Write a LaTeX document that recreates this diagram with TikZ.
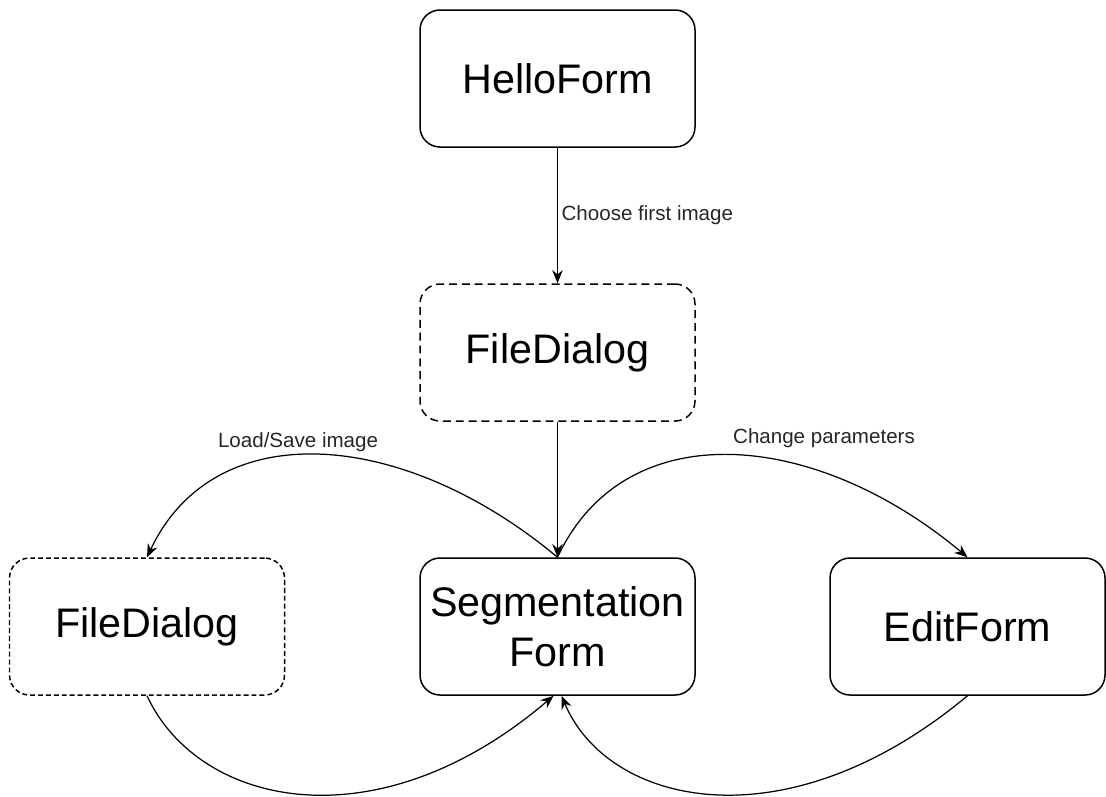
\documentclass[tikz,border=0pt]{standalone}
\usepackage{fontspec}
\setmainfont{Liberation Sans}
\usetikzlibrary{positioning, arrows.meta}

\begin{document}
\begin{tikzpicture}[every node/.style={align=center},
	form/.style={draw, rounded corners=0.4cm, line width=0.85pt, minimum width=5.5cm, minimum height=2.74cm, fill=white, font=\fontsize{23.5}{28.5}\selectfont},
	dialog/.style={form, dash pattern=on 4.5pt off 2.8pt},
	flow/.style={line width=0.7pt, -{Stealth[length=7.5pt, width=6pt, inset=2.5pt]}},
	flowlabel/.style={font=\fontsize{11.7}{14}\selectfont, inner sep=2pt, text=black!85}]
	\useasboundingbox (0,0) rectangle (22.12,-15.92);
	%Forms
	\node[form] (hello) at (11.15,-1.57) {HelloForm};
	\node[dialog] (fdtop) at (11.15,-7.05) {FileDialog};
	\node[form] (seg) at (11.15,-12.53) {Segmentation\\Form};
	\node[form] (edit) at (19.35,-12.53) {EditForm};
	\node[dialog, dash pattern=on 2.8pt off 1.7pt] (fdleft) at (2.94,-12.53) {FileDialog};
	%Straight flow
	\draw[flow] (hello) -- node[flowlabel, right] {Choose first image} (fdtop);
	\draw[flow] (fdtop) -- (seg);
	%Curves from SegmentationForm
	\draw[flow] (seg.north) .. controls (8.08,-8.58) and (4.30,-8.26) .. (fdleft.north) node[flowlabel, pos=0.55, above] {Load/Save image};
	\draw[flow] (seg.north) .. controls (12.50,-8.26) and (16.28,-8.58) .. (edit.north) node[flowlabel, pos=0.7, above=12pt] {Change parameters};
	%Curves back to SegmentationForm
	\draw[flow] (fdleft.south) .. controls (3.96,-16.12) and (7.52,-16.94) .. ([xshift=-0.08cm]seg.south);
	\draw[flow] (edit.south) .. controls (15.72,-16.94) and (12.16,-16.12) .. ([xshift=0.08cm]seg.south);
\end{tikzpicture}
\end{document}
